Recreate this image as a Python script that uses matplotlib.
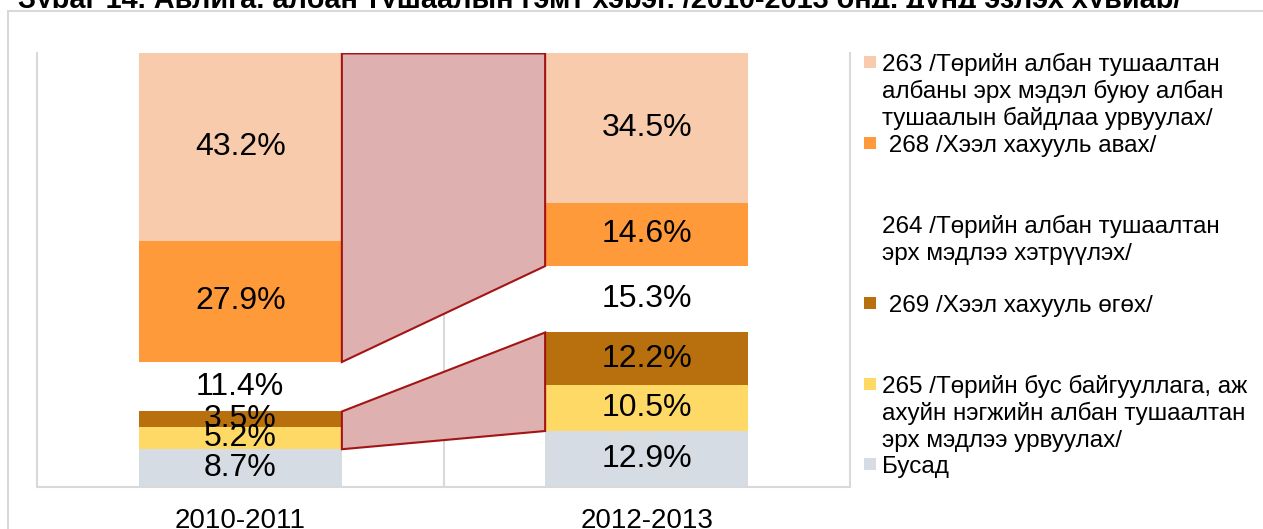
import matplotlib
matplotlib.use('Agg')
import matplotlib.pyplot as plt
from matplotlib.patches import Rectangle
from matplotlib.transforms import blended_transform_factory, Bbox, TransformedBbox

plt.rcParams['font.family'] = ['Liberation Sans', 'DejaVu Sans']

# Зураг 14 - авлига, албан тушаалын гэмт хэрэг, хувиар
years = ['2010-2011', '2012-2013']
# доороос дээш: Бусад, 265, 269, 264, 268, 263
busad = [8.7, 12.9]
h265 = [5.2, 10.5]
h269 = [3.5, 12.2]
h264 = [11.4, 15.3]
h268 = [27.9, 14.6]
h263 = [43.2, 34.5]

series = [busad, h265, h269, h264, h268, h263]
colors = ['#D6DCE4', '#FFD966', '#B8700E', '#FFFFFF', '#FF9A3A', '#F8CBAD']

legend_rows = [
    (['263 /Төрийн албан тушаалтан', 'албаны эрх мэдэл буюу албан',
      'тушаалын байдлаа урвуулах/'], '#F8CBAD', 71),
    ([' 268 /Хээл хахууль авах/'], '#FF9A3A', 152),
    (['264 /Төрийн албан тушаалтан', 'эрх мэдлээ хэтрүүлэх/'], None, 233),
    ([' 269 /Хээл хахууль өгөх/'], '#B8700E', 312),
    (['265 /Төрийн бус байгууллага, аж', 'ахуйн нэгжийн албан тушаалтан',
      'эрх мэдлээ урвуулах/'], '#FFD966', 393),
    (['Бусад'], '#D6DCE4', 473),
]

W, H = 1263, 529
fig = plt.figure(figsize=(W / 100, H / 100), dpi=100)
ax = fig.add_axes([37 / W, (H - 487) / H, (850 - 37) / W, (487 - 53) / H])

x = [0, 1]
bottom = [0, 0]
tops = []
for vals, c in zip(series, colors):
    bars = ax.bar(x, vals, width=0.5, bottom=bottom, color=c, zorder=2)
    ax.bar_label(bars, labels=[f'{v}%' for v in vals], label_type='center',
                 fontsize=23, color='black', zorder=5)
    bottom = [b + v for b, v in zip(bottom, vals)]
    tops.append(bottom)

# холбох хэсгүүд
# 263+268 : дээд ирмэгээс 268-ын доод ирмэг хүртэл
lo1 = tops[3]
hi1 = tops[5]
ax.fill([0.25, 0.75, 0.75, 0.25], [hi1[0], hi1[0], lo1[1], lo1[0]],
        facecolor='#DEB0B0', edgecolor='#A31515', linewidth=1.5, zorder=3)
# 269+265
lo2 = tops[0]
hi2 = tops[2]
ax.fill([0.25, 0.75, 0.75, 0.25], [hi2[0], hi2[1], lo2[1], lo2[0]],
        facecolor='#DEB0B0', edgecolor='#A31515', linewidth=1.5, zorder=3)

ax.set_xlim(-0.5, 1.5)
ax.set_ylim(0, 100)
ax.axvline(0.5, color='#D9D9D9', lw=1.5, zorder=1)
for s in ['left', 'right', 'bottom']:
    ax.spines[s].set_color('#D9D9D9')
    ax.spines[s].set_linewidth(1.5)
ax.spines['top'].set_visible(False)
ax.set_xticks([])
ax.set_yticks([])

tr = blended_transform_factory(ax.transData, fig.transFigure)
for xi, yr in zip(x, years):
    fig.text(xi, 1 / H, yr, transform=tr, ha='center', va='baseline', fontsize=20)

# гадна хүрээ
fig.patches.append(Rectangle((8 / W, -0.1), 1.2, (H - 11) / H + 0.1,
                             transform=fig.transFigure, fill=False,
                             edgecolor='#D9D9D9', lw=1.5))

# гарчиг (дээд, доод хэсэг нь тасарсан)
t = fig.text(18 / W, 1 - 7.5 / H,
             'Зураг 14. Авлига, албан тушаалын гэмт хэрэг, /2010-2013 онд, дүнд эзлэх хувиар/',
             fontsize=20.8, fontweight='bold', ha='left', va='baseline')
t.set_clip_box(TransformedBbox(Bbox([[0, 1 - 8 / H], [1, 1.2]]), fig.transFigure))
t.set_clip_on(True)

# тайлбар
for lines, c, base in legend_rows:
    if c is not None:
        fig.patches.append(Rectangle((864 / W, 1 - (base - 3) / H), 12 / W, 12 / H,
                                     transform=fig.transFigure, facecolor=c,
                                     edgecolor='none'))
    for k, line in enumerate(lines):
        fig.text(882 / W, 1 - (base + 27 * k) / H, line, fontsize=17.5,
                 ha='left', va='baseline')

fig.savefig('out.png', dpi=100)
